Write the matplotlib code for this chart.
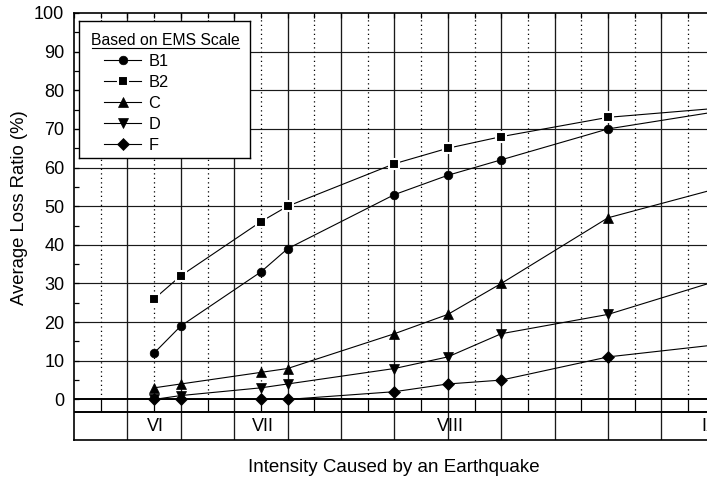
import matplotlib
matplotlib.use("Agg")
import matplotlib.pyplot as plt

plt.rcParams['font.family'] = ['Liberation Sans', 'DejaVu Sans']

# ---------------- data ----------------
intensity_pos = [3, 4, 7, 8, 12, 14, 16, 20, 24]
b1 = [12, 19, 33, 39, 53, 58, 62, 70, 74.4]
b2 = [26, 32, 46, 50, 61, 65, 68, 73, 75.3]
c_vals = [3, 4, 7, 8, 17, 22, 30, 47, 54.4]
d_vals = [0, 1, 3, 4, 8, 11, 17, 22, 30.5]
f_vals = [0, 0, 0, 0, 2, 4, 5, 11, 14.1]
series_names = ['B1', 'B2', 'C', 'D', 'F']
series_values = [b1, b2, c_vals, d_vals, f_vals]
roman_labels = ['VI', 'VII', 'VIII', 'IX']
roman_pos = [3.04, 7.09, 14.11, 23.8]
y_ticks = list(range(0, 101, 10))
y_minor = list(range(5, 100, 10))

# ---------------- styles ----------------
marker_styles = {
    'B1': dict(marker='o', ms=6.2, mec='black', mew=0.5),
    'B2': dict(marker='s', ms=6.8, mec='white', mew=1.5),
    'C': dict(marker='^', ms=7.6, mec='black', mew=0.5),
    'D': dict(marker='v', ms=7.6, mec='black', mew=0.5),
    'F': dict(marker='D', ms=6.0, mec='black', mew=0.5),
}

W, H = 707, 479
fig = plt.figure(figsize=(W / 100, H / 100), dpi=100)
XMAX = 26
UNIT = 26.7
YMIN, YMAX = -10.5, 100
TABLE_MID = -3.25
ax = fig.add_axes([74 / W, (H - 440) / H, XMAX * UNIT / W, (440 - 13) / H])
ax.set_xlim(0, XMAX)
ax.set_ylim(YMIN, YMAX)

grid_col = '#1a1a1a'
# horizontal grid lines
ax.hlines(list(range(10, 100, 10)), 0, XMAX, colors=grid_col, lw=0.85, zorder=1)
ax.hlines([0, TABLE_MID], 0, XMAX, colors='black', lw=1.4, zorder=2)
# vertical solid (even) lines
even_x = list(range(2, XMAX + 1, 2))
odd_x = list(range(1, XMAX, 2))
ax.vlines(even_x, YMIN, YMAX, colors=grid_col, lw=0.95, zorder=1)
# dotted (odd) lines
ax.vlines(odd_x, 0, YMAX, colors='black', lw=0.9, linestyles=(0, (1.0, 2.6)), zorder=1)
# short row-1 separators
ax.vlines(odd_x, TABLE_MID, 0, colors='black', lw=0.9, zorder=1)

# ticks
ax.xaxis.set_ticks_position('top')
ax.set_xticks(list(range(0, XMAX + 1)))
ax.tick_params(axis='x', direction='in', length=3.6, width=0.9,
               labeltop=False, labelbottom=False)
ax.yaxis.set_ticks_position('left')
ax.set_yticks(y_ticks)
ax.set_yticklabels([str(v) for v in y_ticks])
ax.set_yticks(y_minor, minor=True)
ax.tick_params(axis='y', which='both', direction='in', length=3.6, width=0.9,
               labelsize=13, pad=7)
for sp in ax.spines.values():
    sp.set_linewidth(1.2)
    sp.set_color('black')

# data
for name, vals in zip(series_names, series_values):
    st = marker_styles[name]
    ax.plot(intensity_pos, vals, color='black', lw=0.8, mfc='black',
            zorder=3, clip_on=True, **st)

# intensity labels in table
for lab, pos in zip(roman_labels, roman_pos):
    ax.text(pos, -8.1, lab, ha='center', va='baseline', fontsize=13, zorder=4)

# axis labels
fig.text(394 / W, 1 - 472.3 / H, 'Intensity Caused by an Earthquake',
         ha='center', va='baseline', fontsize=13.5)
fig.text(20 / W, 1 - 208 / H, 'Average Loss Ratio (%)', rotation=90,
         ha='center', va='center', fontsize=13.3)

# ---------------- legend (manual box) ----------------
LW_, LH_ = 171, 137
lax = fig.add_axes([79 / W, (H - 158) / H, LW_ / W, LH_ / H])
lax.set_xlim(0, LW_)
lax.set_ylim(LH_, 0)
lax.set_xticks([])
lax.set_yticks([])
lax.set_facecolor('white')
for sp in lax.spines.values():
    sp.set_linewidth(1.0)
    sp.set_color('black')
lax.text(86.5, 24, 'Based on EMS Scale', ha='center', va='baseline', fontsize=11.3)
lax.plot([13, 160], [26.8, 26.8], color='black', lw=0.8)
entry_y = [39, 60, 81.3, 102.3, 123.3]
for name, yy in zip(series_names, entry_y):
    st = marker_styles[name]
    lax.plot([25, 62], [yy, yy], color='black', lw=0.8)
    lax.plot([44.3], [yy], color='black', mfc='black', **st)
    lax.text(69.3, yy + 5.6, name, ha='left', va='baseline', fontsize=11.8)

fig.savefig('out.png', dpi=100)
